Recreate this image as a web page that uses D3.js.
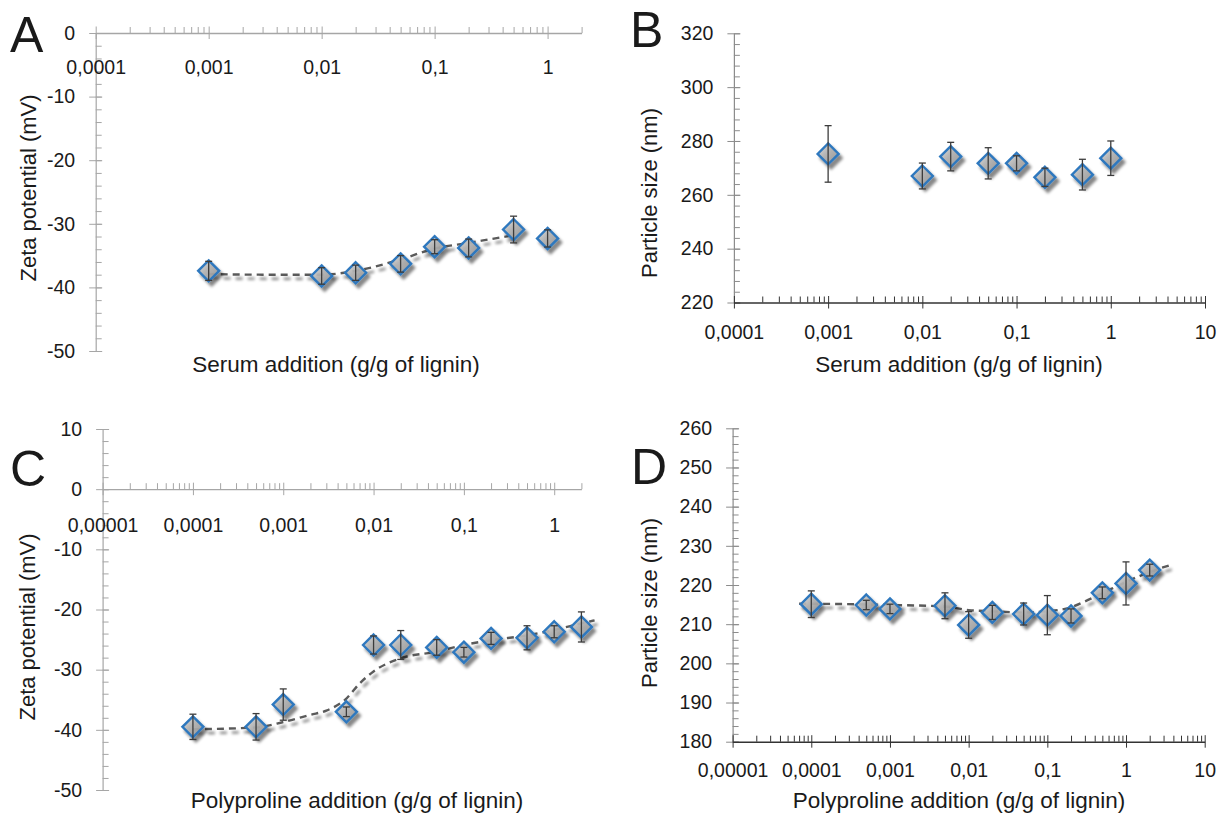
<!DOCTYPE html>
<html lang="en">
<head>
<meta charset="utf-8">
<script src="https://cdnjs.cloudflare.com/ajax/libs/d3/7.8.5/d3.min.js"></script>
<style>
body { margin: 0; background: #fff; }
text { font-family: "Liberation Sans", Arial, sans-serif; fill: #1a1a1a; }
</style>
<title>Zeta potential and particle size vs serum / polyproline addition</title>
</head>
<body>
<script>

// ---- data ----
// A: zeta potential, serum
var serumDose = [0.001, 0.01, 0.02, 0.05, 0.1, 0.2, 0.5, 1];
var zetaSerum = [-37.4, -38.2, -37.7, -36.3, -33.6, -33.8, -30.9, -32.3];
var zetaSerumErr = [1.5, 1.3, 1.2, 1.3, 1.1, 1.4, 2.1, 1.35];
var zetaSerumFitX = [0.001, 0.003, 0.01, 0.02, 0.05, 0.1, 0.2, 0.5];
var zetaSerumFitY = [-37.9, -38.0, -38.0, -37.4, -35.6, -33.9, -33.0, -31.8];

// B: particle size, serum
var sizeSerum = [275.2, 267.0, 274.2, 271.7, 271.7, 266.5, 267.5, 273.6];
var sizeSerumErr = [10.5, 4.8, 5.3, 5.8, 2.8, 3.4, 5.7, 6.4];

// C: zeta potential, polyproline
var prolineDose = [0.0001, 0.0005, 0.001, 0.005, 0.01, 0.02, 0.05, 0.1, 0.2, 0.5, 1, 2];
var zetaProline = [-39.5, -39.5, -35.8, -37.0, -25.9, -25.9, -26.3, -27.1, -24.8, -24.7, -23.7, -22.9];
var zetaProlineErr = [2.1, 2.2, 2.6, 0.8, 1.5, 2.4, 1.3, 0.8, 1.0, 2.0, 1.0, 2.5];
var zetaProlineFitX = [0.0001, 0.0005, 0.001, 0.002, 0.003, 0.005, 0.007, 0.01, 0.02, 0.05, 0.1, 0.2, 0.5, 1, 2, 2.8];
var zetaProlineFitY = [-39.9, -39.6, -38.7, -37.5, -36.8, -34.8, -32.3, -30.3, -28.1, -27.0, -25.9, -25.1, -24.3, -23.4, -22.3, -21.8];

// D: particle size, polyproline
var sizeProline = [215.1, 214.9, 213.9, 214.7, 209.8, 213.0, 212.6, 212.3, 212.1, 218.0, 220.4, 223.8];
var sizeProlineErr = [3.4, 1.2, 1.2, 3.3, 3.4, 1.8, 2.8, 5.0, 1.8, 1.5, 5.5, 1.5];
var sizeProlineFitX = [0.00007, 0.0001, 0.001, 0.005, 0.01, 0.02, 0.05, 0.1, 0.2, 0.3, 0.5, 1, 2, 3.8];
var sizeProlineFitY = [215.2, 215.2, 214.9, 214.5, 213.6, 213.3, 213.0, 213.3, 214.3, 215.8, 217.9, 220.8, 223.3, 225.2];

// tick values
var xTicksA = [0.0001, 0.001, 0.01, 0.1, 1];
var xTicksB = [0.0001, 0.001, 0.01, 0.1, 1, 10];
var xTicksC = [0.00001, 0.0001, 0.001, 0.01, 0.1, 1];
var xTicksD = [0.00001, 0.0001, 0.001, 0.01, 0.1, 1, 10];
var yTicksA = [0, -10, -20, -30, -40, -50];
var yTicksB = [220, 240, 260, 280, 300, 320];
var yTicksC = [10, 0, -10, -20, -30, -40, -50];
var yTicksD = [180, 190, 200, 210, 220, 230, 240, 250, 260];

var w = 1221, h = 820;
var svg = d3.select("body").append("svg")
  .attr("width", w)
  .attr("height", h);

var defs = svg.append("defs");
var sh = defs.append("filter").attr("id", "shadow")
  .attr("x", "-50%").attr("y", "-50%").attr("width", "200%").attr("height", "200%");
sh.append("feGaussianBlur").attr("in", "SourceAlpha").attr("stdDeviation", 1.7).attr("result", "blur");
sh.append("feOffset").attr("in", "blur").attr("dx", 3).attr("dy", 3.5).attr("result", "off");
sh.append("feComponentTransfer").attr("in", "off").attr("result", "soft")
  .append("feFuncA").attr("type", "linear").attr("slope", 0.5);
var mg = sh.append("feMerge");
mg.append("feMergeNode").attr("in", "soft");
mg.append("feMergeNode").attr("in", "SourceGraphic");

var grad = defs.append("linearGradient").attr("id", "mfill")
  .attr("x1", 0).attr("y1", 0).attr("x2", 1).attr("y2", 1);
grad.append("stop").attr("offset", "0%").attr("stop-color", "#cfcfcf");
grad.append("stop").attr("offset", "100%").attr("stop-color", "#939393");

function commaFmt(d) { return String(d).replace(".", ","); }

function drawPanel(p) {
  var x = d3.scaleLog().domain(p.xDomain).range(p.xRange);
  var y = d3.scaleLinear().domain(p.yDomain).range(p.yRange);
  var g = svg.append("g");
  var axisPos = y(p.xAxisAt);

  // x minor ticks (2..9 per decade), pointing up
  var minors = [];
  p.xTicks.forEach(function(d) {
    for (var k = 2; k < 10; k++) {
      var v = d * k;
      if (v <= p.xDomain[1] * 1.0001) minors.push(v);
    }
  });
  var xm = g.append("g").attr("transform", "translate(0," + axisPos + ")")
    .call(d3.axisTop(x).tickValues(minors).tickSize(6).tickFormat(""));
  xm.select(".domain").remove();
  xm.selectAll("line").attr("stroke", p.xColor);

  // y minor ticks, pointing right
  var yMinor = d3.range(p.yDomain[1], p.yDomain[0] + 0.001, p.yMinorStep);
  var ym = g.append("g").attr("transform", "translate(" + p.xRange[0] + ",0)")
    .call(d3.axisRight(y).tickValues(yMinor).tickSize(6).tickFormat(""));
  ym.select(".domain").remove();
  ym.selectAll("line").attr("stroke", p.yColor);

  // y major axis, ticks crossing
  var ya = g.append("g").attr("transform", "translate(" + p.xRange[0] + ",0)")
    .call(d3.axisLeft(y).tickValues(p.yTicks).tickSizeInner(6.5).tickSizeOuter(0)
      .tickPadding(14).tickFormat(function(d) { return String(d); }));
  ya.attr("font-size", null).attr("font-family", null);
  ya.select(".domain").attr("stroke", p.yColor).attr("stroke-width", 1.2);
  ya.selectAll(".tick line").attr("x2", -6.5).attr("x1", 6.5).attr("stroke", p.yColor);
  ya.selectAll(".tick text").style("font-size", "19.5px").attr("fill", "#1a1a1a");

  // x major axis
  var xa = g.append("g").attr("transform", "translate(0," + axisPos + ")")
    .call(d3.axisBottom(x).tickValues(p.xTicks).tickSizeInner(6).tickSizeOuter(0).tickFormat(commaFmt));
  xa.attr("font-size", null).attr("font-family", null);
  xa.select(".domain").attr("stroke", p.xColor).attr("stroke-width", p.xWidth);
  xa.selectAll(".tick line").attr("y1", -6.5).attr("stroke", p.xColor);
  xa.selectAll(".tick text").attr("y", p.xLabelY).attr("dy", 0)
    .style("font-size", "19.5px").attr("fill", "#1a1a1a");

  // trend line
  if (p.fitX) {
    var fit = p.fitX.map(function(d, i) { return [d, p.fitY[i]]; });
    var line = d3.line()
      .x(function(d) { return x(d[0]); })
      .y(function(d) { return y(d[1]); })
      .curve(d3.curveMonotoneX);
    g.append("path")
      .datum(fit)
      .attr("d", line)
      .attr("fill", "none")
      .attr("stroke", "#5a5a5a")
      .attr("stroke-width", 2.4)
      .attr("stroke-dasharray", "7,5")
      .attr("filter", "url(#shadow)");
  }

  var pts = p.dose.map(function(d, i) { return { x: d, y: p.vals[i], e: p.errs[i] }; });

  // diamond markers
  var r = 10.5;
  g.selectAll("path.mark")
    .data(pts)
    .enter()
    .append("path")
    .attr("class", "mark")
    .attr("d", function(d) {
      var cx = x(d.x), cy = y(d.y);
      return "M" + cx + "," + (cy - r) + "L" + (cx + r) + "," + cy +
             "L" + cx + "," + (cy + r) + "L" + (cx - r) + "," + cy + "Z";
    })
    .attr("fill", "url(#mfill)")
    .attr("fill-opacity", 0.9)
    .attr("stroke", "#2f78be")
    .attr("stroke-width", 2.4)
    .attr("filter", "url(#shadow)");

  // error bars
  var eb = g.selectAll("g.err")
    .data(pts)
    .enter()
    .append("g")
    .attr("class", "err")
    .attr("stroke", "#3c3c3c")
    .attr("stroke-width", 1.3);
  eb.append("line")
    .attr("x1", function(d) { return x(d.x); })
    .attr("x2", function(d) { return x(d.x); })
    .attr("y1", function(d) { return y(d.y - d.e); })
    .attr("y2", function(d) { return y(d.y + d.e); });
  eb.append("line")
    .attr("x1", function(d) { return x(d.x) - 3.5; })
    .attr("x2", function(d) { return x(d.x) + 3.5; })
    .attr("y1", function(d) { return y(d.y + d.e); })
    .attr("y2", function(d) { return y(d.y + d.e); });
  eb.append("line")
    .attr("x1", function(d) { return x(d.x) - 3.5; })
    .attr("x2", function(d) { return x(d.x) + 3.5; })
    .attr("y1", function(d) { return y(d.y - d.e); })
    .attr("y2", function(d) { return y(d.y - d.e); });

  // titles
  g.append("text")
    .attr("x", p.xTitle[0])
    .attr("y", p.xTitle[1])
    .attr("text-anchor", "middle")
    .style("font-size", "22.5px")
    .text(p.xLabel);
  g.append("text")
    .attr("transform", "translate(" + p.yTitle[0] + "," + p.yTitle[1] + ") rotate(-90)")
    .attr("text-anchor", "middle")
    .attr("dy", "0.35em")
    .style("font-size", "22px")
    .text(p.yLabel);
  g.append("text")
    .attr("x", p.letter[0])
    .attr("y", p.letter[1])
    .style("font-size", "50px")
    .attr("fill", "#000")
    .text(p.name);
}

drawPanel({
  name: "A", letter: [10, 52],
  dose: serumDose, vals: zetaSerum, errs: zetaSerumErr,
  fitX: zetaSerumFitX, fitY: zetaSerumFitY,
  xDomain: [0.0001, 2], xRange: [95.7, 581.6], xTicks: xTicksA,
  yDomain: [0, -50], yRange: [33, 351], yTicks: yTicksA, yMinorStep: 2,
  xAxisAt: 0, xColor: "#a6a6a6", xWidth: 1.3, yColor: "#a6a6a6", xLabelY: 41,
  xLabel: "Serum addition (g/g of lignin)", xTitle: [336, 372],
  yLabel: "Zeta potential (mV)", yTitle: [28, 188]
});

drawPanel({
  name: "B", letter: [630, 47],
  dose: serumDose, vals: sizeSerum, errs: sizeSerumErr,
  xDomain: [0.0001, 10], xRange: [733.9, 1205], xTicks: xTicksB,
  yDomain: [320, 220], yRange: [33.3, 302.5], yTicks: yTicksB, yMinorStep: 4,
  xAxisAt: 220, xColor: "#333333", xWidth: 1.6, yColor: "#8c8c8c", xLabelY: 36,
  xLabel: "Serum addition (g/g of lignin)", xTitle: [959, 372],
  yLabel: "Particle size (nm)", yTitle: [649, 193]
});

drawPanel({
  name: "C", letter: [10, 486],
  dose: prolineDose, vals: zetaProline, errs: zetaProlineErr,
  fitX: zetaProlineFitX, fitY: zetaProlineFitY,
  xDomain: [0.00001, 2], xRange: [102.6, 581.4], xTicks: xTicksC,
  yDomain: [10, -50], yRange: [429, 790], yTicks: yTicksC, yMinorStep: 2,
  xAxisAt: 0, xColor: "#a6a6a6", xWidth: 1.3, yColor: "#a6a6a6", xLabelY: 43,
  xLabel: "Polyproline addition (g/g of lignin)", xTitle: [357, 808],
  yLabel: "Zeta potential (mV)", yTitle: [27, 627]
});

drawPanel({
  name: "D", letter: [631, 484],
  dose: prolineDose, vals: sizeProline, errs: sizeProlineErr,
  fitX: sizeProlineFitX, fitY: sizeProlineFitY,
  xDomain: [0.00001, 10], xRange: [732.6, 1204.7], xTicks: xTicksD,
  yDomain: [260, 180], yRange: [428.3, 741.7], yTicks: yTicksD, yMinorStep: 2,
  xAxisAt: 180, xColor: "#333333", xWidth: 1.6, yColor: "#8c8c8c", xLabelY: 35,
  xLabel: "Polyproline addition (g/g of lignin)", xTitle: [959, 808],
  yLabel: "Particle size (nm)", yTitle: [649, 603]
});

</script>
</body>
</html>
